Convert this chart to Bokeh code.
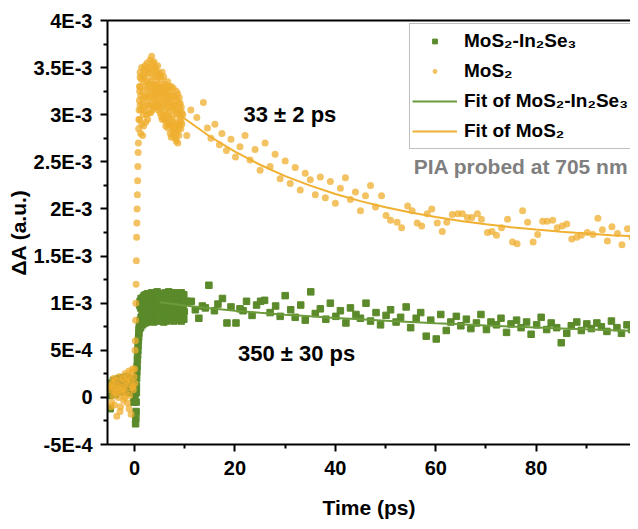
from bokeh.plotting import figure
from bokeh.models import Range1d, FixedTicker, LinearAxis, Legend, LegendItem, ColumnDataSource, CustomJSTickFormatter
from bokeh.core.properties import value
from bokeh.embed import file_html
from bokeh.resources import INLINE

# ---------------- data (delta A in units of 1E-3) ----------------
# MoS2-In2Se3 (green squares)
g_pre_t = [-5.0, -4.87, -4.74, -4.61, -4.48, -4.35, -4.22, -4.09, -3.96, -3.83, -3.70, -3.57, -3.44, -3.31,
           -3.18, -3.05, -2.92, -2.79, -2.66, -2.53, -2.40, -2.27, -2.14, -2.01, -1.88, -1.75, -1.62, -1.49,
           -1.36, -1.23, -1.10, -0.97, -0.84, -0.71, -0.58, -0.45, -0.32, -0.19, -0.06, 0.07]
g_pre_y = [0.02, -0.12, 0.08, 0.15, 0.05, 0.11, 0.18, 0.09, 0.14, 0.03, 0.16, 0.12, 0.19, 0.07,
           0.13, 0.20, 0.10, 0.15, 0.06, 0.17, 0.12, 0.21, 0.09, 0.14, 0.18, 0.08, 0.16, 0.22,
           0.11, 0.15, 0.05, 0.19, 0.13, 0.20, 0.08, 0.17, 0.10, -0.05, 0.12, 0.02]
g_rise_t = [0.2, 0.25, 0.3, 0.3, 0.35, 0.35, 0.4, 0.45, 0.5, 0.55, 0.6, 0.65, 0.7, 0.75, 0.8, 0.85, 0.9, 0.95]
g_rise_y = [-0.28, -0.22, -0.15, -0.05, 0.05, 0.12, 0.2, 0.27, 0.33, 0.4, 0.45, 0.5, 0.55, 0.6, 0.64, 0.68, 0.72, 0.75]
g_plat_t = [1.0, 1.1, 1.2, 1.3, 1.4, 1.5, 1.6, 1.7, 1.8, 1.9,
            2.0, 2.1, 2.2, 2.3, 2.4, 2.5, 2.6, 2.7, 2.8, 2.9,
            3.0, 3.1, 3.2, 3.3, 3.4, 3.5, 3.6, 3.7, 3.8, 3.9,
            4.0, 4.1, 4.2, 4.3, 4.4, 4.5, 4.6, 4.7, 4.8, 4.9,
            5.0, 5.1, 5.2, 5.3, 5.4, 5.5, 5.6, 5.7, 5.8, 5.9,
            6.0, 6.1, 6.2, 6.3, 6.4, 6.5, 6.6, 6.7, 6.8, 6.9,
            7.0, 7.1, 7.2, 7.3, 7.4, 7.5, 7.6, 7.7, 7.8, 7.9,
            8.0, 8.1, 8.2, 8.3, 8.4, 8.5, 8.6, 8.7, 8.8, 8.9,
            9.0, 9.1, 9.2, 9.3, 9.4, 9.5, 9.6, 9.7, 9.8, 9.9]
g_plat_y1 = [0.98, 1.02, 0.95, 1.05, 0.99, 1.03, 0.96, 1.06, 1.0, 1.08,
             1.04, 0.97, 1.09, 1.01, 1.06, 0.98, 1.1, 1.03, 0.96, 1.07,
             1.02, 1.08, 0.97, 1.05, 1.11, 0.99, 1.04, 1.09, 0.96, 1.03,
             1.06, 1.0, 1.1, 0.98, 1.05, 1.12, 1.01, 0.97, 1.08, 1.04,
             0.99, 1.07, 1.03, 1.1, 0.96, 1.05, 1.09, 1.0, 1.06, 0.98,
             1.04, 1.11, 0.97, 1.06, 1.02, 1.09, 0.99, 1.05, 1.12, 1.01,
             0.97, 1.07, 1.03, 1.1, 0.98, 1.05, 1.08, 1.0, 1.04, 1.11,
             1.06, 0.99, 1.09, 1.02, 1.07, 0.96, 1.05, 1.1, 1.01, 1.04,
             1.08, 0.98, 1.03, 1.11, 1.0, 1.06, 0.97, 1.04, 1.09, 1.02]
g_plat_y2 = [0.76, 0.82, 0.74, 0.85, 0.79, 0.88, 0.77, 0.83, 0.9, 0.8,
             0.84, 0.79, 0.9, 0.82, 0.87, 0.8, 0.93, 0.85, 0.81, 0.89,
             0.86, 0.92, 0.81, 0.88, 0.94, 0.83, 0.9, 0.85, 0.8, 0.91,
             0.88, 0.82, 0.93, 0.86, 0.9, 0.81, 0.95, 0.84, 0.89, 0.87,
             0.83, 0.91, 0.86, 0.94, 0.82, 0.89, 0.85, 0.92, 0.8, 0.88,
             0.9, 0.84, 0.93, 0.81, 0.87, 0.92, 0.83, 0.89, 0.86, 0.94,
             0.85, 0.91, 0.82, 0.88, 0.95, 0.84, 0.9, 0.87, 0.81, 0.92,
             0.88, 0.83, 0.94, 0.86, 0.91, 0.82, 0.89, 0.93, 0.85, 0.9,
             0.84, 0.92, 0.87, 0.81, 0.9, 0.86, 0.93, 0.88, 0.83, 0.91]
g_tail_t = [10.4, 11.3, 12.1, 12.8, 13.5, 14.1, 14.8, 15.9, 16.6, 17.5, 18.4, 19.2, 20.2, 21.0, 21.6, 22.3,
            23.4, 24.3, 25.1, 25.9, 27.0, 28.1, 29.0, 30.0, 31.1, 32.0, 33.1, 34.0, 35.1, 36.0, 37.0, 38.1,
            39.0, 40.1, 41.0, 42.1, 43.0, 44.1, 45.0, 46.1, 47.0, 48.1, 49.0, 50.1, 51.0, 52.1, 53.0, 54.1,
            55.0, 56.1, 57.0, 58.1, 59.0, 60.1, 61.0, 62.1, 63.0, 64.1, 65.0, 66.1, 67.0, 68.1, 69.0, 70.1,
            71.0, 72.1, 73.0, 74.1, 75.0, 76.1, 77.0, 78.1, 79.0, 80.1, 81.0, 82.1, 83.0, 84.1, 85.0, 86.1,
            87.0, 88.1, 89.0, 90.1, 91.0, 92.1, 93.0, 94.1, 95.0, 96.1, 97.0, 98.1, 99.0]
g_tail_y = [1.02, 1.02, 0.93, 0.84, 0.97, 0.95, 1.19, 0.92, 0.99, 1.05, 0.79, 0.96, 0.79, 0.94, 0.92, 1.02,
            0.87, 0.98, 1.02, 1.03, 0.90, 0.97, 0.86, 1.08, 0.93, 0.85, 0.98, 0.82, 1.12, 0.89, 0.94, 0.83,
            1.00, 0.86, 0.92, 0.79, 0.95, 0.88, 0.84, 1.00, 0.81, 0.90, 0.77, 0.87, 0.93, 0.80, 0.85, 0.96,
            0.74, 0.84, 0.90, 0.65, 0.82, 0.62, 0.88, 0.71, 0.80, 0.86, 0.76, 0.83, 0.73, 0.79, 0.88, 0.72,
            0.80, 0.77, 0.84, 0.69, 0.78, 0.82, 0.74, 0.80, 0.67, 0.77, 0.85, 0.72, 0.79, 0.74, 0.58, 0.68,
            0.76, 0.80, 0.71, 0.78, 0.73, 0.79, 0.75, 0.70, 0.81, 0.74, 0.68, 0.77, 0.72]
g_fit_t = [5, 10, 15, 20, 25, 30, 35, 40, 45, 50, 55, 60, 65, 70, 75, 80, 85, 90, 95, 100]
g_fit_y = [1.01, 0.975, 0.945, 0.92, 0.898, 0.878, 0.86, 0.843, 0.828, 0.813, 0.80, 0.787, 0.775,
           0.763, 0.752, 0.742, 0.732, 0.722, 0.713, 0.705]

# MoS2 (orange circles)
o_pre_t = [-4.9, -4.75, -4.6, -4.45, -4.3, -4.15, -4.0, -3.85, -3.7, -3.55, -3.4, -3.25, -3.1, -2.95, -2.8,
           -2.65, -2.5, -2.35, -2.2, -2.05, -1.9, -1.75, -1.6, -1.45, -1.3, -1.15, -1.0, -0.85, -0.7, -0.55,
           -0.4, -0.25, -0.1, 0.05, -4.7, -4.2, -3.9, -3.3, -2.9, -2.4, -1.95, -1.5, -1.1, -0.65, -0.3, 0.0]
o_pre_y = [0.08, 0.12, -0.05, 0.15, 0.02, 0.10, -0.08, 0.18, 0.05, -0.20, 0.13, 0.0, 0.22, 0.07, -0.10,
           0.16, 0.04, 0.20, -0.03, 0.11, 0.25, 0.06, 0.17, -0.06, 0.14, 0.28, 0.02, 0.19, -0.18, 0.10,
           0.30, 0.08, 0.22, 0.15, -0.10, 0.20, 0.06, 0.10, -0.15, 0.09, 0.0, 0.21, -0.12, 0.26, 0.12, 0.30]
o_rise_t = [0.1, 0.15, 0.2, 0.25, 0.3, 0.35, 0.4, 0.45, 0.5, 0.55, 0.6, 0.65, 0.7, 0.75, 0.8, 0.85, 0.9,
            0.95, 1.0, 1.05, 1.1]
o_rise_y = [0.5, 0.6, 0.82, 1.0, 1.2, 1.45, 1.7, 1.85, 2.0, 2.15, 2.3, 2.45, 2.6, 2.7, 2.85, 2.95, 3.05,
            3.15, 3.25, 3.3, 3.4]
o_cloud_t = [1.0, 1.1, 1.2, 1.3, 1.4, 1.5, 1.6, 1.7, 1.8, 1.9,
             2.0, 2.1, 2.2, 2.3, 2.4, 2.5, 2.6, 2.7, 2.8, 2.9,
             3.0, 3.1, 3.2, 3.3, 3.4, 3.5, 3.6, 3.7, 3.8, 3.9,
             4.0, 4.1, 4.2, 4.3, 4.4, 4.5, 4.6, 4.7, 4.8, 4.9,
             5.0, 5.1, 5.2, 5.3, 5.4, 5.5, 5.6, 5.7, 5.8, 5.9,
             6.0, 6.1, 6.2, 6.3, 6.4, 6.5, 6.6, 6.7, 6.8, 6.9,
             7.0, 7.1, 7.2, 7.3, 7.4, 7.5, 7.6, 7.7, 7.8, 7.9,
             8.0, 8.1, 8.2, 8.3, 8.4, 8.5, 8.6, 8.7, 8.8, 8.9,
             9.0, 9.1, 9.2, 9.3, 9.4]
o_cloud_y1 = [3.3, 3.45, 3.2, 3.38, 3.5, 3.25, 3.42, 3.18, 3.35, 3.48,
              3.4, 3.52, 3.3, 3.47, 3.36, 3.55, 3.28, 3.44, 3.5, 3.33,
              3.45, 3.58, 3.35, 3.5, 3.62, 3.4, 3.55, 3.32, 3.48, 3.56,
              3.42, 3.3, 3.5, 3.36, 3.46, 3.32, 3.52, 3.4, 3.28, 3.44,
              3.3, 3.42, 3.25, 3.38, 3.22, 3.45, 3.32, 3.28, 3.4, 3.24,
              3.25, 3.15, 3.32, 3.2, 3.28, 3.12, 3.35, 3.18, 3.22, 3.3,
              3.15, 3.25, 3.08, 3.3, 3.12, 3.2, 3.05, 3.28, 3.1, 3.18,
              3.1, 3.2, 3.05, 3.25, 3.0, 3.15, 3.22, 3.02, 3.12, 3.18,
              3.05, 3.12, 2.98, 3.08, 3.02]
o_cloud_y2 = [2.95, 3.1, 2.8, 3.05, 2.9, 3.12, 2.78, 3.0, 2.88, 3.08,
              3.05, 3.2, 2.92, 3.15, 3.0, 3.22, 2.95, 3.1, 3.18, 3.02,
              3.1, 3.25, 3.02, 3.2, 3.12, 3.28, 3.05, 3.18, 3.08, 3.22,
              3.15, 3.25, 3.08, 3.2, 3.12, 3.26, 3.1, 3.18, 3.05, 3.22,
              3.1, 3.02, 3.15, 2.98, 3.08, 2.95, 3.12, 3.0, 3.18, 2.96,
              2.95, 3.05, 2.88, 3.0, 2.92, 3.08, 2.86, 2.98, 3.02, 2.9,
              2.9, 2.8, 2.95, 2.76, 2.88, 2.98, 2.82, 2.92, 2.78, 2.86,
              2.85, 2.75, 2.92, 2.72, 2.8, 2.88, 2.7, 2.84, 2.78, 2.9,
              2.88, 2.95, 2.85, 2.92, 2.9]
o_tail_t = [9.6, 10.4, 11.2, 12.4, 13.7, 14.5, 15.2, 16.0, 16.9, 17.4, 18.3, 19.2, 20.1, 21.0, 22.0, 23.0,
            24.0, 25.0, 26.0, 27.0, 28.0, 29.0, 30.0, 31.0, 32.0, 33.0, 34.0, 35.0, 36.0, 37.0, 38.0, 39.0,
            40.0, 41.0, 42.0, 43.0, 44.0, 45.0, 46.0, 47.0, 48.0, 49.2, 50.1, 51.0, 52.3, 53.2, 54.4, 55.3,
            56.3, 57.2, 58.3, 59.2, 60.3, 61.3, 62.2, 63.3, 64.4, 65.3, 66.3, 67.2, 68.3, 69.1, 70.3, 71.2,
            72.1, 73.1, 74.3, 75.3, 76.2, 77.3, 78.3, 79.4, 80.3, 81.3, 82.2, 83.3, 84.2, 85.2, 86.1, 87.1,
            88.1, 89.0, 90.2, 91.3, 92.3, 93.2, 94.2, 95.1, 96.2, 97.1, 98.2, 99.1]
o_tail_y = [3.00, 2.78, 3.05, 2.97, 3.13, 2.86, 2.75, 2.90, 2.68, 2.80, 2.62, 2.74, 2.55, 2.66, 2.78, 2.52,
            2.63, 2.41, 2.70, 2.45, 2.58, 2.32, 2.51, 2.27, 2.44, 2.20, 2.38, 2.31, 2.15, 2.34, 2.12, 2.29,
            2.06, 2.22, 2.33, 2.10, 2.18, 1.98, 2.14, 2.25, 2.02, 2.14, 1.93, 1.88, 1.86, 1.80, 2.03, 1.98,
            1.85, 1.82, 1.95, 2.00, 1.85, 1.76, 1.86, 1.94, 1.95, 1.95, 1.91, 1.91, 1.95, 1.89, 1.75, 1.76,
            1.72, 1.80, 1.89, 1.65, 1.63, 1.98, 1.86, 1.65, 1.73, 1.87, 1.87, 1.88, 1.80, 1.82, 1.84, 1.68,
            1.70, 1.72, 1.75, 1.73, 1.90, 1.78, 1.66, 1.81, 1.74, 1.62, 1.79, 1.70]
o_fit_t = [5, 10, 15, 20, 25, 30, 35, 40, 45, 50, 55, 60, 65, 70, 75, 80, 85, 90, 95, 100]
o_fit_y = [3.175, 2.957, 2.769, 2.608, 2.469, 2.349, 2.247, 2.159, 2.083, 2.018, 1.962, 1.914, 1.872,
           1.837, 1.806, 1.781, 1.758, 1.739, 1.722, 1.708]

x_ticks = [0, 20, 40, 60, 80]
x_minor = [10, 30, 50, 70, 90]
y_ticks = [-0.5, 0, 0.5, 1.0, 1.5, 2.0, 2.5, 3.0, 3.5, 4.0]
y_labels = ["-5E-4", "0", "5E-4", "1E-3", "1.5E-3", "2E-3", "2.5E-3", "3E-3", "3.5E-3", "4E-3"]
y_minor = [-0.25, 0.25, 0.75, 1.25, 1.75, 2.25, 2.75, 3.25, 3.75]

legend_labels = ["MoS\u2082-In\u2082Se\u2083", "MoS\u2082", "Fit of MoS\u2082-In\u2082Se\u2083", "Fit of MoS\u2082"]
notes = ["33 \u00b1 2 ps", "350 \u00b1 30 ps", "PIA probed at 705 nm"]

# ---------------- styling ----------------
GREEN = "#5B8A2B"
GREEN_FIT = "#6C9B3C"
ORANGE = "#EFAE2E"
ORANGE_FIT = "#F0B032"
FONT = "Liberation Sans"

p = figure(width=630, height=521, output_backend="svg", toolbar_location=None,
           x_range=Range1d(-5.4, 98.8), y_range=Range1d(-0.5, 4.0),
           min_border_left=107, min_border_right=0, min_border_top=20, min_border_bottom=60)
p.xgrid.visible = False
p.ygrid.visible = False
p.outline_line_color = None
p.background_fill_color = "white"
p.border_fill_color = "white"

g_t = g_pre_t + g_rise_t + g_plat_t + g_plat_t + g_tail_t
g_y = g_pre_y + g_rise_y + g_plat_y1 + g_plat_y2 + g_tail_y
o_t = o_pre_t + o_rise_t + o_cloud_t + o_cloud_t + o_tail_t
o_y = o_pre_y + o_rise_y + o_cloud_y1 + o_cloud_y2 + o_tail_y

g_src = ColumnDataSource(dict(t=g_t, y=g_y))
o_src = ColumnDataSource(dict(t=o_t, y=o_y))

g_sc = p.scatter("t", "y", source=g_src, marker="square", size=6.5, fill_color=GREEN, line_color=GREEN)
o_sc = p.scatter("t", "y", source=o_src, marker="circle", size=7, fill_color=ORANGE, line_color=None,
                 fill_alpha=0.75)
g_ln = p.line(g_fit_t, g_fit_y, line_color=GREEN_FIT, line_width=2)
o_ln = p.line(o_fit_t, o_fit_y, line_color=ORANGE_FIT, line_width=2)

for ax in (p.xaxis[0], p.yaxis[0]):
    ax.axis_line_width = 2
    ax.major_tick_line_width = 2
    ax.minor_tick_line_width = 2
    ax.major_tick_out = 7
    ax.major_tick_in = 0
    ax.minor_tick_out = 4
    ax.minor_tick_in = 0
    ax.major_label_text_font = FONT
    ax.major_label_text_font_style = "bold"
    ax.major_label_text_font_size = "20px"
    ax.major_label_text_color = "black"
    ax.axis_label_text_font = FONT
    ax.axis_label_text_font_style = "bold"
    ax.axis_label_text_font_size = "21px"
    ax.axis_label_text_color = "black"

p.xaxis[0].ticker = FixedTicker(ticks=x_ticks, minor_ticks=x_minor)
p.xaxis[0].axis_label = "Time (ps)"
p.xaxis[0].major_label_standoff = 9
p.xaxis[0].axis_label_standoff = 18

p.yaxis[0].ticker = FixedTicker(ticks=y_ticks, minor_ticks=y_minor)
p.yaxis[0].formatter = CustomJSTickFormatter(args=dict(t=y_ticks, l=y_labels), code="""
let i = 0, b = 1e9;
for (let k = 0; k < t.length; k++) { const d = Math.abs(t[k] - tick); if (d < b) { b = d; i = k; } }
return l[i];
""")
p.yaxis[0].axis_label = "\u0394A (a.u.)"
p.yaxis[0].major_label_standoff = 8
p.yaxis[0].axis_label_standoff = 1

top = LinearAxis(ticker=FixedTicker(ticks=[]), axis_line_width=2, major_tick_out=0, major_tick_in=0,
                 minor_tick_out=0, minor_tick_in=0, major_label_standoff=0, major_label_text_font_size="0px")
p.add_layout(top, "above")

# annotations
p.text(x=[21.7], y=[3.0], text=[notes[0]], text_font=value(FONT), text_font_style="bold",
       text_font_size="22px", text_baseline="middle", text_align="left", text_color="black")
p.text(x=[20.6], y=[0.47], text=[notes[1]], text_font=value(FONT), text_font_style="bold",
       text_font_size="22px", text_baseline="middle", text_align="left", text_color="black")
p.text(x=[55.6], y=[2.45], text=[notes[2]], text_font=value(FONT), text_font_style="bold",
       text_font_size="21px", text_baseline="middle", text_align="left", text_color="#7F7F7F")

legend = Legend(items=[LegendItem(label=legend_labels[0], renderers=[g_sc]),
                       LegendItem(label=legend_labels[1], renderers=[o_sc]),
                       LegendItem(label=legend_labels[2], renderers=[g_ln]),
                       LegendItem(label=legend_labels[3], renderers=[o_ln])],
                location=(302, 295), orientation="vertical",
                border_line_color="#7F7F7F", border_line_width=1.5,
                background_fill_color="white", background_fill_alpha=1.0,
                padding=2, spacing=0, margin=0,
                glyph_width=45, glyph_height=12, label_height=30, label_standoff=7,
                label_text_font=FONT, label_text_font_style="bold", label_text_font_size="19px",
                label_text_color="black", label_text_baseline="middle")
p.add_layout(legend)

open("out.html", "w").write(file_html(p, INLINE))
